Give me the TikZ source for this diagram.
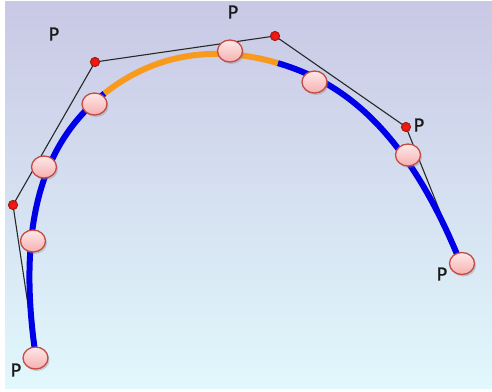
\documentclass[tikz,border=0pt]{standalone}
\usepackage{fontspec}
\setmainfont{Carlito}
\usetikzlibrary{calc,shadows,shapes.geometric}

\definecolor{bgtop}{RGB}{201,200,229}
\definecolor{bgbot}{RGB}{225,248,252}
\definecolor{curveblue}{RGB}{0,0,232}
\definecolor{curveorange}{RGB}{247,154,30}
\definecolor{sampletop}{RGB}{254,232,232}
\definecolor{samplebot}{RGB}{246,176,176}
\definecolor{sampleedge}{RGB}{196,74,66}
\definecolor{dotred}{RGB}{214,24,12}
\definecolor{dotedge}{RGB}{150,20,10}
\definecolor{polygray}{RGB}{40,40,40}
\definecolor{labelink}{RGB}{24,24,24}

\begin{document}
\begin{tikzpicture}[x=1pt,y=-1pt,
  curveline/.style={line width=6pt,line cap=butt},
  polyline/.style={draw=polygray,line width=1.1pt,line join=round},
  ctrldot/.style={circle,inner sep=0pt,minimum size=9.5pt,inner color=red!90!white,outer color=dotred,draw=dotedge,line width=0.6pt},
  sample/.style={ellipse,inner sep=0pt,minimum width=25pt,minimum height=22pt,
    top color=sampletop,bottom color=samplebot,draw=sampleedge,line width=1.3pt,
    drop shadow={shadow xshift=1.5pt,shadow yshift=-2pt,opacity=0.35}},
  plabel/.style={text=labelink,font=\fontsize{20}{20}\selectfont\addfontfeature{FakeBold=1},inner sep=0pt}]

% page and gradient backdrop
\useasboundingbox (0,0) rectangle (492,391);
\fill[white] (0,0) rectangle (492,391);
\shade[top color=bgtop,bottom color=bgbot] (5,1) rectangle (492,388);

% control points of the cubic B-spline
\coordinate (P0) at (36,358);
\coordinate (P1) at (13,205);
\coordinate (P2) at (95,62);
\coordinate (P3) at (275,36);
\coordinate (P4) at (406,127);
\coordinate (P5) at (461,264);

% Bezier points of the three spans
\coordinate (A)  at ($(P1)!0.5!(P2)$);
\coordinate (B)  at ($(P2)!1/3!(P3)$);
\coordinate (C)  at ($(P2)!2/3!(P3)$);
\coordinate (D)  at ($(P3)!0.5!(P4)$);
\coordinate (K1) at ($(A)!0.5!(B)$);
\coordinate (K2) at ($(C)!0.5!(D)$);

% control polygon
\draw[polyline] (P0) -- (P1) -- (P2) -- (P3) -- (P4) -- (P5);

% the spline, middle span highlighted
\draw[curveline,curveblue] (P0) .. controls (P1) and (A) .. (K1);
\draw[curveline,curveblue] (K2) .. controls (D) and (P4) .. (P5);
\draw[curveline,curveorange] (K1) .. controls (B) and (C) .. (K2);

% inner control points
\node[ctrldot] (d1) at (P1) {};
\node[ctrldot] (d2) at (P2) {};
\node[ctrldot] (d3) at (P3) {};
\node[ctrldot] (d4) at (P4) {};

% sample points on the curve
\node[sample] (s1) at (35.5,358) {};
\node[sample] (s2) at (33,241) {};
\node[sample] (s3) at (44,167) {};
\node[sample] (s4) at (94.5,104) {};
\node[sample] (s5) at (230,51) {};
\node[sample] (s6) at (314.5,82) {};
\node[sample] (s7) at (408,155) {};
\node[sample] (s8) at (462,263.5) {};

% labels
\node[plabel] (l0) at (16,370) {P};
\node[plabel] (l1) at (54,34) {P};
\node[plabel] (l2) at (233,12) {P};
\node[plabel] (l3) at (419,125) {P};
\node[plabel] (l4) at (442,274) {P};
\end{tikzpicture}
\end{document}
